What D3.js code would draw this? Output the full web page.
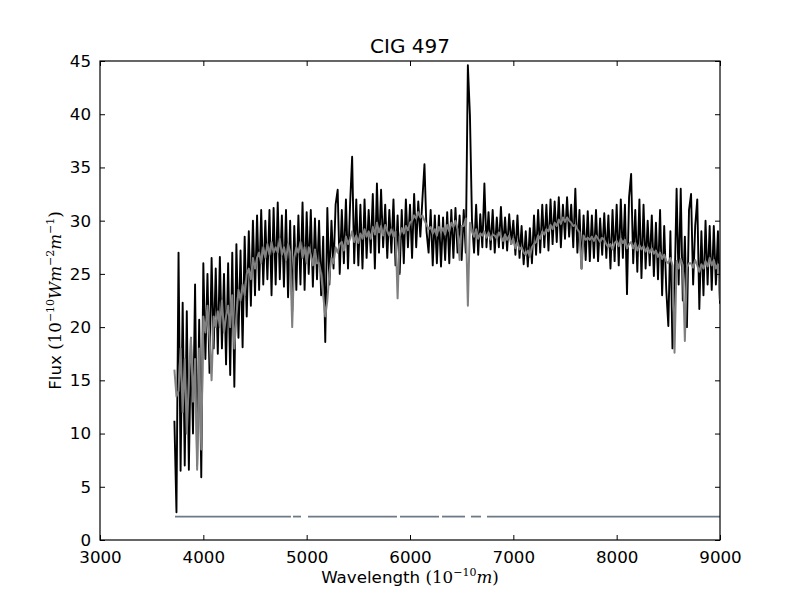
<!DOCTYPE html>
<html>
<head>
<meta charset="utf-8">
<script src="https://cdn.jsdelivr.net/npm/d3@7"></script>
<style>
  body { margin: 0; background: #fff; }
  svg { display: block; font-family: "DejaVu Sans", sans-serif; }
</style>
</head>
<body>
<svg id="chart" width="800" height="600"></svg>
<script>
// wavelength grid (Angstrom), one sample every 20
const waveStart = 3720, waveStep = 20;

const observed = [
  11.2, 2.6, 27, 6.5, 22.3, 7, 21.5, 6.6, 19, 10,
  24, 7, 20.7, 5.9, 26, 17, 25, 15.7, 26.5, 18,
  25.5, 17.5, 26.6, 18, 25, 16.5, 26, 15.5, 27, 14.4,
  27.8, 19, 27.2, 18.1, 28.5, 21, 29, 22, 30, 23,
  30.5, 23.5, 31, 24, 30, 24.5, 31, 23, 31.2, 24,
  31.7, 24.5, 30.5, 23.8, 31, 22.8, 30, 21.5, 29.5, 23.5,
  30.5, 24, 31.7, 23.5, 30.8, 25, 31, 23.8, 30.2, 24.5,
  30, 23, 28.5, 18.6, 31.2, 24, 30, 25.5, 31.5, 32.9,
  25, 31, 26, 32, 25.5, 31.5, 36, 26, 32, 25.8,
  31.5, 25.5, 32, 26.5, 31, 27, 32.5, 25.5, 33.5, 27,
  32.9, 27.5, 31.5, 26.5, 31, 27, 32, 25.8, 30.5, 25,
  31, 26, 32, 27.5, 31.5, 26.5, 32.5, 27.5, 31.8, 28.5,
  32, 35.3, 29, 27, 31, 25.8, 30.5, 26, 30.5, 25.7,
  30.3, 26.3, 30.8, 26, 31, 26.5, 31.2, 27, 30.5, 26.3,
  31, 27, 44.6, 39.9, 30, 27, 31.5, 26.8, 30.6, 27.5,
  33.5, 27.5, 30.8, 27.3, 31, 27, 30.3, 27.5, 31.3, 27.4,
  30.3, 27.2, 30.6, 27.8, 30, 26.8, 30.5, 26.5, 29.5, 25.9,
  29, 25.7, 29.3, 26, 30.5, 26.8, 31, 27, 31.5, 27.5,
  31.5, 27.2, 32, 27.8, 31.8, 28, 32.2, 27.5, 31.5, 28.3,
  32.2, 28.5, 31.5, 27.5, 33, 27, 31, 25.5, 30.5, 26.3,
  30.9, 26.2, 30.5, 26.5, 31, 26.2, 30.2, 26.8, 30.7, 26.5,
  30.5, 25.5, 31, 26.2, 31.5, 25.8, 32, 26.5, 31.5, 23.1,
  32.2, 34.4, 26, 31, 25.2, 32, 24.6, 31.5, 25.5, 30,
  25.8, 30.5, 24.8, 29.8, 24.5, 31, 23, 29.5, 23.5, 20.1,
  29, 18, 23.5, 33, 24, 33, 22.5, 28.5, 20, 31,
  32.5, 24, 29.5, 32, 21.7, 29, 23, 30, 24, 29.5,
  23.5, 29.5, 24, 29, 22.2
];

// fitted / synthetic spectrum (grey)
const fitted = [
  16, 13.5, 14, 18, 12, 17, 10, 15, 19, 13,
  17, 6.6, 18, 8.5, 21, 19.5, 22, 19, 15, 21,
  20, 21.5, 20, 22.5, 19.5, 21, 22, 20, 23, 18,
  21, 23.5, 22.5, 24, 23, 25, 25.5, 24.5, 26.5, 25.5,
  26.5, 27, 26, 27.5, 26.5, 27.8, 26.8, 28, 27, 27.5,
  27, 28.3, 26.8, 27.5, 26.3, 27.8, 27, 20, 26.5, 27.5,
  27, 28, 26.5, 27.5, 26, 27.5, 26.8, 25.8, 27.3, 26,
  26, 25, 23, 21, 22.5, 25, 26.5, 26, 27.5, 27,
  27.8, 28, 27.2, 28.5, 27.8, 28.3, 29, 28, 28.6, 27.9,
  28.8, 28.3, 29.2, 28.5, 29, 28.3, 29.4, 28.7, 29.8, 28.9,
  29.5, 28.6, 29.6, 29, 28.6, 29.2, 28.5, 29, 22.7, 28.5,
  29.3, 28.8, 29.5, 29.1, 29.8, 30, 30.5, 30.2, 30.8, 30.3,
  30.5, 30, 29.6, 29.2, 29.4, 28.8, 29.2, 28.6, 29.4, 28.9,
  29.3, 28.7, 29.6, 29, 29.8, 29.4, 30, 29.2, 26.3, 29.5,
  29.5, 30.2, 22, 29.8, 29, 28.5, 29.2, 28.3, 28.8, 28.6,
  29, 28.4, 28.9, 28.2, 28.7, 28.6, 28.3, 28.9, 28.5, 28.1,
  28.7, 28.2, 28.6, 27.8, 28.3, 27.4, 28, 27.3, 27.5, 27,
  26.8, 27.2, 26.6, 27.5, 27.8, 28, 28.6, 28.3, 29, 28.7,
  29.2, 29, 29.6, 29.2, 29.8, 29.5, 30.1, 29.7, 30.3, 29.9,
  30.3, 30, 29.8, 29.5, 29.6, 29.2, 28.9, 25.5, 28.6, 28.2,
  28.4, 28.2, 28.5, 28.1, 28.6, 28.3, 28, 28.4, 28.2, 27.8,
  27.5, 27.8, 27.3, 27.9, 28.1, 27.6, 28.3, 27.9, 28.2, 27.4,
  27.8, 28, 27.4, 27.9, 27.2, 27.7, 27.3, 27.6, 27.1, 27.5,
  27, 27.4, 26.9, 27.2, 26.6, 27, 26.4, 26.8, 26.2, 26,
  26.5, 25.8, 17.6, 26.2, 25.5, 26.4, 25.8, 18.7, 25.6, 26,
  26, 25.6, 26.3, 25.8, 25.2, 25.9, 25.5, 26.2, 25.7, 26.5,
  25.8, 26.3, 25.5, 25.9, 22.5
];

// flat error line with gaps: [from, to] in Angstrom
const errLevel = 2.2;
const errSegments = [
  [3726, 4848], [4868, 4945], [5013, 5874], [5903, 6281],
  [6310, 6532], [6590, 6687], [6745, 9000]
];

const xTicks = [3000, 4000, 5000, 6000, 7000, 8000, 9000];
const yTicks = [0, 5, 10, 15, 20, 25, 30, 35, 40, 45];

const svg = d3.select("#chart");
const margin = {left: 100, right: 80, top: 61, bottom: 60};
const W = 800, H = 600;

const x = d3.scaleLinear().domain([3000, 9000]).range([margin.left, W - margin.right]);
const y = d3.scaleLinear().domain([0, 45]).range([H - margin.bottom, margin.top]);

const obs = observed.map((v, i) => ({w: waveStart + i * waveStep, f: v}));
const fit = fitted.map((v, i) => ({w: waveStart + i * waveStep, f: v}));

const line = d3.line().x(d => x(d.w)).y(d => y(d.f));

svg.append("defs").append("clipPath").attr("id", "clip")
  .append("rect")
  .attr("x", margin.left).attr("y", margin.top)
  .attr("width", W - margin.left - margin.right)
  .attr("height", H - margin.top - margin.bottom);

const plot = svg.append("g").attr("clip-path", "url(#clip)");

plot.append("path").datum(obs)
  .attr("d", line)
  .attr("fill", "none").attr("stroke", "#000").attr("stroke-width", 1.9)
  .attr("stroke-linejoin", "round");

plot.append("path").datum(fit)
  .attr("d", line)
  .attr("fill", "none").attr("stroke", "#808080").attr("stroke-width", 2)
  .attr("stroke-linejoin", "round");

plot.selectAll(".err").data(errSegments).enter().append("line")
  .attr("class", "err")
  .attr("x1", d => x(d[0])).attr("x2", d => x(d[1]))
  .attr("y1", y(errLevel)).attr("y2", y(errLevel))
  .attr("stroke", "#6b7a86").attr("stroke-width", 1.8);

// axes, matplotlib classic: ticks inside on every side
const tickLen = 5;
const fontSize = 16.7;

const axBottom = svg.append("g").attr("transform", `translate(0,${y(0)})`)
  .call(d3.axisBottom(x).tickValues(xTicks).tickSizeInner(-tickLen).tickSizeOuter(0).tickPadding(11).tickFormat(d3.format("d")));
const axTop = svg.append("g").attr("transform", `translate(0,${y(45)})`)
  .call(d3.axisTop(x).tickValues(xTicks).tickSizeInner(-tickLen).tickSizeOuter(0).tickFormat(""));
const axLeft = svg.append("g").attr("transform", `translate(${x(3000)},0)`)
  .call(d3.axisLeft(y).tickValues(yTicks).tickSizeInner(-tickLen).tickSizeOuter(0).tickPadding(9).tickFormat(d3.format("d")));
const axRight = svg.append("g").attr("transform", `translate(${x(9000)},0)`)
  .call(d3.axisRight(y).tickValues(yTicks).tickSizeInner(-tickLen).tickSizeOuter(0).tickFormat(""));

[axBottom, axTop, axLeft, axRight].forEach(g => {
  g.select(".domain").remove();
  g.selectAll("line").attr("stroke", "#000");
  g.selectAll("text").attr("font-size", fontSize).attr("font-family", "DejaVu Sans").attr("fill", "#000");
});

svg.append("rect")
  .attr("x", margin.left).attr("y", margin.top)
  .attr("width", W - margin.left - margin.right)
  .attr("height", H - margin.top - margin.bottom)
  .attr("fill", "none").attr("stroke", "#000").attr("stroke-width", 1.2);

svg.append("text")
  .attr("x", (margin.left + W - margin.right) / 2).attr("y", 53)
  .attr("text-anchor", "middle").attr("font-size", 20)
  .text("CIG 497");

// x label with math part
const xl = svg.append("text")
  .attr("x", (margin.left + W - margin.right) / 2).attr("y", 583)
  .attr("text-anchor", "middle").attr("font-size", fontSize);
xl.append("tspan").text("Wavelength ");
xl.append("tspan").attr("font-family", "DejaVu Serif").text("(10");
xl.append("tspan").attr("font-family", "DejaVu Serif").attr("font-size", 11).attr("dy", -7).text("−10");
xl.append("tspan").attr("font-family", "DejaVu Serif").attr("font-style", "italic").attr("dy", 7).text("m");
xl.append("tspan").attr("font-family", "DejaVu Serif").text(")");

const yl = svg.append("text")
  .attr("transform", `translate(61,${(margin.top + H - margin.bottom) / 2}) rotate(-90)`)
  .attr("text-anchor", "middle").attr("font-size", fontSize);
yl.append("tspan").text("Flux ");
yl.append("tspan").attr("font-family", "DejaVu Serif").text("(10");
yl.append("tspan").attr("font-family", "DejaVu Serif").attr("font-size", 11).attr("dy", -7).text("−10");
yl.append("tspan").attr("font-family", "DejaVu Serif").attr("font-style", "italic").attr("dy", 7).text("Wm");
yl.append("tspan").attr("font-family", "DejaVu Serif").attr("font-size", 11).attr("dy", -7).text("−2");
yl.append("tspan").attr("font-family", "DejaVu Serif").attr("font-style", "italic").attr("dy", 7).text("m");
yl.append("tspan").attr("font-family", "DejaVu Serif").attr("font-size", 11).attr("dy", -7).text("−1");
yl.append("tspan").attr("font-family", "DejaVu Serif").attr("dy", 7).text(")");
</script>
</body>
</html>
